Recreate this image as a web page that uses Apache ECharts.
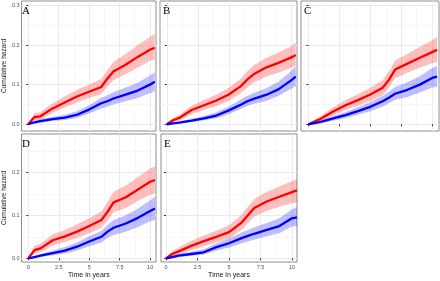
<!DOCTYPE html>
<html>
<head>
<meta charset="utf-8">
<script src="https://cdn.jsdelivr.net/npm/echarts@6/dist/echarts.min.js"></script>
<style>
  html, body { margin: 0; padding: 0; background: #fff; }
  #chart { width: 440px; height: 281px; }
</style>
</head>
<body>
<div id="chart"></div>
<script>
// time grid (years) shared by all curves
const timePoints = [0, 0.5, 1, 2, 3, 4, 5, 6, 6.5, 7, 8, 9, 10, 10.4];

const xTickValues = [0, 2.5, 5, 7.5, 10];
const xMinorValues = [1.25, 3.75, 6.25, 8.75];
const yTickValues = [0, 0.1, 0.2, 0.3];
const yMinorValues = [0.05, 0.15, 0.25];
const panelLetters = ['A', 'B', 'C', 'D', 'E'];

// A
const aRedEst  = [0, 0.018, 0.020, 0.040, 0.055, 0.070, 0.082, 0.094, 0.115, 0.133, 0.150, 0.170, 0.188, 0.193];
const aRedLow  = [0, 0.010, 0.012, 0.029, 0.042, 0.055, 0.066, 0.076, 0.095, 0.111, 0.126, 0.143, 0.160, 0.163];
const aRedHigh = [0, 0.028, 0.030, 0.053, 0.070, 0.087, 0.100, 0.114, 0.137, 0.157, 0.177, 0.200, 0.220, 0.228];
const aBlueEst  = [0, 0.005, 0.008, 0.013, 0.017, 0.024, 0.037, 0.053, 0.058, 0.065, 0.075, 0.085, 0.100, 0.107];
const aBlueLow  = [0, 0.002, 0.004, 0.008, 0.011, 0.016, 0.027, 0.040, 0.044, 0.050, 0.058, 0.066, 0.078, 0.083];
const aBlueHigh = [0, 0.009, 0.013, 0.019, 0.024, 0.033, 0.048, 0.067, 0.073, 0.081, 0.093, 0.105, 0.123, 0.132];

// B
const bRedEst  = [0, 0.010, 0.016, 0.036, 0.048, 0.060, 0.075, 0.097, 0.113, 0.126, 0.143, 0.155, 0.168, 0.175];
const bRedLow  = [0, 0.005, 0.009, 0.026, 0.036, 0.046, 0.059, 0.079, 0.093, 0.105, 0.120, 0.130, 0.142, 0.148];
const bRedHigh = [0, 0.016, 0.024, 0.047, 0.061, 0.075, 0.092, 0.116, 0.134, 0.148, 0.167, 0.181, 0.196, 0.205];
const bBlueEst  = [0, 0.002, 0.004, 0.009, 0.015, 0.022, 0.035, 0.050, 0.058, 0.064, 0.074, 0.088, 0.110, 0.120];
const bBlueLow  = [0, 0.001, 0.002, 0.005, 0.010, 0.015, 0.026, 0.039, 0.046, 0.051, 0.059, 0.071, 0.089, 0.096];
const bBlueHigh = [0, 0.004, 0.007, 0.014, 0.021, 0.030, 0.045, 0.063, 0.072, 0.079, 0.091, 0.107, 0.134, 0.147];

// C
const cRedEst  = [0, 0.007, 0.014, 0.032, 0.048, 0.061, 0.075, 0.092, 0.112, 0.138, 0.153, 0.168, 0.182, 0.188];
const cRedLow  = [0, 0.003, 0.008, 0.022, 0.036, 0.047, 0.059, 0.074, 0.092, 0.116, 0.130, 0.143, 0.154, 0.157];
const cRedHigh = [0, 0.012, 0.021, 0.043, 0.061, 0.076, 0.092, 0.111, 0.133, 0.161, 0.178, 0.195, 0.212, 0.221];
const cBlueEst  = [0, 0.003, 0.006, 0.015, 0.023, 0.033, 0.044, 0.058, 0.067, 0.077, 0.087, 0.100, 0.117, 0.120];
const cBlueLow  = [0, 0.001, 0.003, 0.009, 0.016, 0.024, 0.033, 0.045, 0.053, 0.061, 0.069, 0.080, 0.093, 0.094];
const cBlueHigh = [0, 0.006, 0.010, 0.021, 0.031, 0.043, 0.056, 0.072, 0.082, 0.094, 0.106, 0.121, 0.142, 0.147];

// D
const dRedEst  = [0, 0.019, 0.023, 0.042, 0.051, 0.062, 0.075, 0.089, 0.108, 0.130, 0.142, 0.160, 0.178, 0.182];
const dRedLow  = [0, 0.011, 0.014, 0.030, 0.038, 0.047, 0.058, 0.071, 0.088, 0.107, 0.117, 0.133, 0.148, 0.151];
const dRedHigh = [0, 0.029, 0.034, 0.056, 0.066, 0.079, 0.093, 0.109, 0.131, 0.155, 0.169, 0.189, 0.209, 0.214];
const dBlueEst  = [0, 0.003, 0.006, 0.012, 0.018, 0.027, 0.039, 0.050, 0.062, 0.071, 0.081, 0.094, 0.110, 0.116];
const dBlueLow  = [0, 0.001, 0.003, 0.007, 0.011, 0.018, 0.028, 0.037, 0.047, 0.054, 0.062, 0.073, 0.086, 0.089];
const dBlueHigh = [0, 0.006, 0.010, 0.018, 0.026, 0.037, 0.051, 0.064, 0.078, 0.089, 0.100, 0.116, 0.135, 0.143];

// E
const eRedEst  = [0, 0.010, 0.016, 0.029, 0.040, 0.050, 0.061, 0.083, 0.100, 0.117, 0.132, 0.143, 0.154, 0.158];
const eRedLow  = [0, 0.004, 0.009, 0.019, 0.028, 0.037, 0.046, 0.066, 0.081, 0.097, 0.110, 0.120, 0.128, 0.129];
const eRedHigh = [0, 0.017, 0.025, 0.040, 0.053, 0.064, 0.077, 0.101, 0.120, 0.138, 0.155, 0.167, 0.180, 0.184];
const eBlueEst  = [0, 0.003, 0.006, 0.010, 0.014, 0.026, 0.035, 0.047, 0.052, 0.057, 0.066, 0.075, 0.093, 0.095];
const eBlueLow  = [0, 0.001, 0.003, 0.006, 0.009, 0.018, 0.025, 0.035, 0.039, 0.043, 0.051, 0.058, 0.074, 0.075];
const eBlueHigh = [0, 0.006, 0.010, 0.015, 0.021, 0.035, 0.046, 0.060, 0.066, 0.072, 0.082, 0.093, 0.114, 0.119];

const panels = [
  { grid: { left: 19, top: 1, width: 137, height: 130 }, x: [-0.55, 10.5], y: [-0.017, 0.311],
    xTicks: false, xLabels: false, yLabels: true, yName: true, xName: false,
    red: [aRedEst, aRedLow, aRedHigh], blue: [aBlueEst, aBlueLow, aBlueHigh] },
  { grid: { left: 160, top: 1, width: 137, height: 130 }, x: [-0.55, 10.5], y: [-0.017, 0.311],
    xTicks: false, xLabels: false, yLabels: false, yName: false, xName: false,
    red: [bRedEst, bRedLow, bRedHigh], blue: [bBlueEst, bBlueLow, bBlueHigh] },
  { grid: { left: 301, top: 1, width: 138, height: 130 }, x: [-0.6, 10.55], y: [-0.017, 0.311],
    xTicks: true, xLabels: false, yLabels: false, yName: false, xName: false,
    red: [cRedEst, cRedLow, cRedHigh], blue: [cBlueEst, cBlueLow, cBlueHigh] },
  { grid: { left: 19, top: 134, width: 137, height: 128 }, x: [-0.56, 10.48], y: [-0.0086, 0.289],
    xTicks: true, xLabels: true, yLabels: true, yName: true, xName: true,
    red: [dRedEst, dRedLow, dRedHigh], blue: [dBlueEst, dBlueLow, dBlueHigh] },
  { grid: { left: 161, top: 134, width: 136, height: 128 }, x: [-0.4, 10.4], y: [-0.0086, 0.289],
    xTicks: true, xLabels: true, yLabels: false, yName: false, xName: true,
    red: [eRedEst, eRedLow, eRedHigh], blue: [eBlueEst, eBlueLow, eBlueHigh] }
];

const labelFont = { fontFamily: 'Liberation Sans', fontSize: 5.5, color: '#4d4d4d' };
const majorGrid = { show: true, lineStyle: { color: '#ebebeb', width: 1 } };
const minorGrid = { show: true, lineStyle: { color: '#f2f2f2', width: 0.6 } };

const grids = [], xAxes = [], yAxes = [], series = [], graphics = [];

function bandSeries(axisIdx, low, high, color) {
  return {
    type: 'custom', xAxisIndex: axisIdx, yAxisIndex: axisIdx, silent: true, z: 1,
    data: [[0, 0]],
    renderItem: function (params, api) {
      const pts = [];
      timePoints.forEach((t, i) => pts.push(api.coord([t, high[i]])));
      for (let i = timePoints.length - 1; i >= 0; i--) pts.push(api.coord([timePoints[i], low[i]]));
      return { type: 'polygon', shape: { points: pts }, style: { fill: color } };
    }
  };
}

function lineSeries(axisIdx, est, color) {
  return {
    type: 'line', xAxisIndex: axisIdx, yAxisIndex: axisIdx, z: 3,
    data: timePoints.map((t, i) => [t, est[i]]),
    showSymbol: false, silent: true,
    lineStyle: { color: color, width: 2.3 }
  };
}

panels.forEach((p, i) => {
  grids.push(Object.assign({ show: true, borderColor: '#8c8c8c', borderWidth: 1, backgroundColor: '#fff' }, p.grid));
  const main = 2 * i, minor = 2 * i + 1;

  xAxes.push({
    type: 'value', gridIndex: i, min: p.x[0], max: p.x[1], position: 'bottom',
    axisLine: { show: false },
    axisTick: { show: p.xTicks, length: 2, lineStyle: { color: '#333' }, customValues: xTickValues },
    axisLabel: Object.assign({ show: p.xLabels, margin: 2, customValues: xTickValues }, labelFont),
    splitLine: majorGrid,
    name: p.xName ? 'Time in years' : '', nameLocation: 'middle', nameGap: 10,
    nameTextStyle: { fontFamily: 'Liberation Sans', fontSize: 7, color: '#1a1a1a' }
  });
  xAxes.push({
    type: 'value', gridIndex: i, min: p.x[0], max: p.x[1], position: 'bottom',
    axisLine: { show: false }, axisLabel: { show: false },
    axisTick: { show: false, customValues: xMinorValues },
    splitLine: minorGrid
  });
  yAxes.push({
    type: 'value', gridIndex: i, min: p.y[0], max: p.y[1], position: 'left',
    axisLine: { show: false },
    axisTick: { show: true, length: 2, lineStyle: { color: '#333' }, customValues: yTickValues },
    axisLabel: Object.assign({ show: p.yLabels, margin: 2, customValues: yTickValues,
      formatter: v => v.toFixed(1) }, labelFont),
    splitLine: majorGrid,
    name: p.yName ? 'Cumulative hazard' : '', nameLocation: 'middle', nameGap: 12,
    nameTextStyle: { fontFamily: 'Liberation Sans', fontSize: 6.5, color: '#1a1a1a' }
  });
  yAxes.push({
    type: 'value', gridIndex: i, min: p.y[0], max: p.y[1], position: 'left',
    axisLine: { show: false }, axisLabel: { show: false },
    axisTick: { show: false, customValues: yMinorValues },
    splitLine: minorGrid
  });

  series.push(bandSeries(main, p.red[1], p.red[2], 'rgba(255,0,0,0.25)'));
  series.push(bandSeries(main, p.blue[1], p.blue[2], 'rgba(0,0,255,0.25)'));
  series.push(lineSeries(main, p.red[0], '#ff0000'));
  series.push(lineSeries(main, p.blue[0], '#0000ff'));

  graphics.push({
    type: 'text', left: p.grid.left + 3, top: p.grid.top + 5, z: 10,
    style: { text: panelLetters[i], font: '11px "Liberation Serif"', fill: '#000' }
  });
});

const chart = echarts.init(document.getElementById('chart'), null, { renderer: 'canvas' });
chart.setOption({
  animation: false,
  backgroundColor: '#fff',
  grid: grids,
  xAxis: xAxes,
  yAxis: yAxes,
  series: series,
  graphic: graphics
});
</script>
</body>
</html>
